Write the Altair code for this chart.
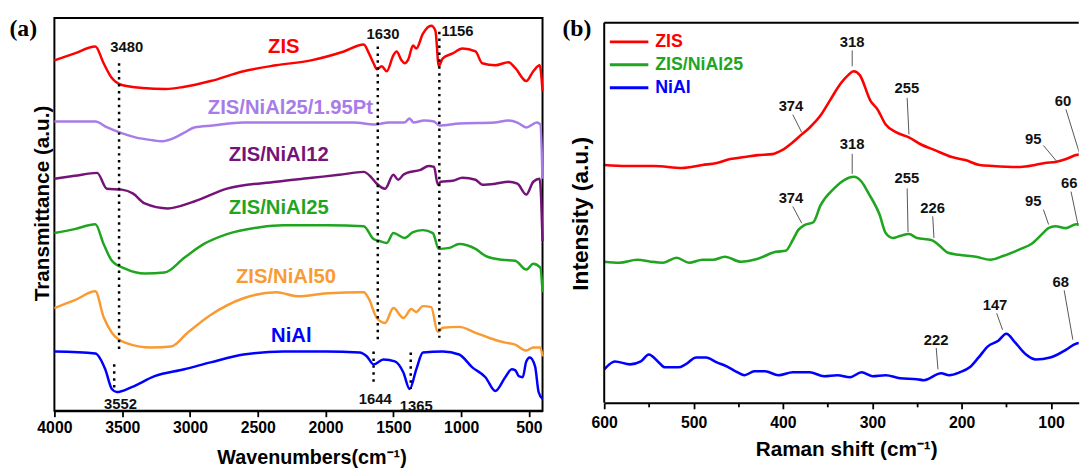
import altair as alt
import pandas as pd

SANS = "Liberation Sans"
SERIF = "Liberation Serif"

# ---------------- Panel (a): FTIR ----------------
ft_names = ["ZIS", "ZIS/NiAl25/1.95Pt", "ZIS/NiAl12", "ZIS/NiAl25", "ZIS/NiAl50", "NiAl"]
ft_colors = ["#FF0000", "#A77CE8", "#751478", "#1FA51F", "#F99A32", "#0000FF"]

zis_wn = [4000, 3850, 3698, 3637, 3576, 3503, 3350, 3180, 3050, 2848, 2605, 2365, 2108, 1865, 1719, 1680, 1646,
          1622, 1586, 1549, 1500, 1476, 1440, 1416, 1390, 1355, 1331, 1282, 1221, 1190, 1165, 1136, 1063, 991,
          894, 845, 748, 651, 600, 520, 468, 421, 400]
zis_t = [355, 362, 369, 352, 337, 330, 327, 326, 328, 334, 344, 350, 355, 364, 371, 362, 352, 346, 349, 344,
         360, 364, 355, 352, 356, 370, 367, 382, 390, 385, 349, 357, 362, 367, 364, 352, 350, 353, 347, 334,
         344, 350, 324]

pt_wn = [4000, 3698, 3610, 3520, 3403, 3273, 3212, 3143, 3039, 2969, 2831, 2605, 2350, 2100, 1793, 1637, 1533,
         1420, 1380, 1351, 1273, 1200, 1161, 1013, 754, 650, 585, 520, 442, 416, 400]
pt_t = [293, 293, 287, 282, 277, 274, 273, 275, 282, 287, 289, 292, 292, 292, 292, 290, 292, 292, 296, 292,
        294, 293, 289, 291, 292, 294, 292, 287, 292, 290, 235]

n12_wn = [4000, 3850, 3685, 3613, 3503, 3419, 3334, 3164, 2969, 2727, 2363, 2100, 1900, 1719, 1660, 1622, 1561,
          1500, 1464, 1427, 1400, 1300, 1240, 1200, 1172, 1150, 1063, 991, 894, 845, 748, 651, 585, 520, 468,
          421, 400]
n12_t = [235, 238, 241, 225, 224, 220, 210, 205, 212, 225, 232, 236, 239, 242, 236, 230, 225, 239, 234, 239,
         241, 244, 248, 247, 229, 232, 233, 236, 234, 229, 230, 232, 230, 219, 232, 235, 172]

n25_wn = [4000, 3850, 3698, 3637, 3576, 3479, 3334, 3188, 3042, 2897, 2727, 2484, 2314, 1986, 1719, 1646, 1603,
          1549, 1500, 1416, 1355, 1282, 1209, 1165, 1088, 1015, 894, 821, 699, 602, 520, 468, 416, 400]
n25_t = [180, 184, 189, 169, 152, 144, 139, 140, 155, 169, 179, 186, 188, 188, 187, 174, 172, 170, 180, 175,
         181, 183, 180, 164, 165, 169, 164, 157, 153, 152, 143, 149, 145, 120]

n50_wn = [4000, 3850, 3698, 3637, 3576, 3479, 3285, 3139, 3018, 2848, 2605, 2363, 2205, 1986, 1719, 1683, 1622,
          1561, 1500, 1427, 1367, 1331, 1282, 1221, 1173, 1136, 1015, 894, 797, 675, 602, 520, 468, 416, 400]
n50_t = [104, 112, 121, 95, 79, 69, 64, 65, 79, 97, 114, 120, 116, 119, 120, 114, 94, 89, 104, 94,
         103, 100, 106, 105, 80, 84, 85, 79, 74, 69, 67, 61, 64, 64, 55]

nial_wn = [4000, 3698, 3625, 3576, 3540, 3430, 3261, 3042, 2848, 2605, 2314, 2000, 1750, 1695, 1646, 1573, 1489,
           1427, 1380, 1331, 1282, 1136, 1015, 918, 821, 748, 675, 627, 600, 575, 546, 520, 494, 455, 429, 400]
nial_t = [60, 58, 42, 22, 19, 24, 35, 42, 49, 57, 60, 60, 59, 55, 47, 52, 50, 39, 22, 42,
          59, 60, 57, 44, 34, 20, 34, 42, 41, 35, 34, 50, 54, 45, 19, 12]

ft_wn_all = [zis_wn, pt_wn, n12_wn, n25_wn, n50_wn, nial_wn]
ft_t_all = [zis_t, pt_t, n12_t, n25_t, n50_t, nial_t]

# series name labels (data coords)
ft_lab_wn = [2308, 2259, 2345, 2345, 2292, 2253]
ft_lab_t = [368.7, 307, 258.7, 205.3, 135.3, 75.3]

# peak annotations and dotted guide lines
pk_text = ["3480", "1630", "1156", "3552", "1644", "1365"]
pk_wn = [3467, 1576, 1027, 3513, 1634, 1331]
pk_t = [368.7, 381.3, 384.3, 7, 12, 5]
dot_wn = [3523, 1615, 1161, 3559, 1646, 1372]
dot_top = [352, 369, 384, 47, 60, 59]
dot_bot = [61, 72, 74, 20, 25, 22]

# ---------------- Panel (b): Raman ----------------
rm_names = ["ZIS", "ZIS/NiAl25", "NiAl"]
rm_colors = ["#FF0000", "#1FA51F", "#0000FF"]

rm_zis_x = [600, 575, 544, 513, 490, 474, 459, 443, 428, 412, 401, 389, 379, 370, 358, 347, 335, 327, 321, 314,
            302, 294, 285, 273, 259, 246, 230, 211, 196, 180, 165, 134, 118, 107, 95, 83, 72, 64, 48]
rm_zis_v = [241, 240, 240, 238, 241, 243, 247, 249, 251, 252, 256, 264, 272, 279, 291, 307, 324, 332, 336, 332,
            306, 297, 282, 274, 269, 262, 256, 249, 246, 241, 240, 239, 241, 243, 244, 247, 251, 252, 254]

rm_n25_x = [600, 583, 563, 548, 534, 519, 505, 490, 478, 465, 447, 428, 408, 397, 389, 383, 376, 366, 358, 343,
            331, 321, 312, 304, 292, 285, 277, 269, 259, 250, 234, 227, 215, 203, 184, 168, 153, 134, 122, 110,
            103, 95, 83, 72, 56, 38]
rm_n25_v = [143, 142, 145, 143, 142, 147, 142, 145, 145, 148, 143, 146, 153, 154, 165, 175, 180, 183, 200, 217,
            226, 229, 224, 212, 191, 172, 167, 169, 171, 167, 165, 161, 152, 150, 148, 145, 149, 156, 161, 171,
            177, 179, 177, 181, 177, 179]

rm_nial_x = [600, 588, 571, 559, 550, 540, 532, 517, 509, 497, 486, 474, 463, 453, 443, 432, 420, 405, 389, 370,
             354, 339, 325, 312, 300, 285, 269, 250, 242, 223, 214, 202, 191, 181, 171, 159, 150, 140, 128, 117,
             101, 95, 83, 72, 64, 48, 38]
rm_nial_v = [34, 42, 39, 42, 49, 42, 36, 36, 39, 46, 46, 41, 37, 32, 28, 32, 32, 28, 31, 31,
             27, 28, 26, 31, 27, 28, 25, 24, 23, 30, 28, 31, 36, 46, 57, 63, 70, 61, 49, 44,
             46, 48, 54, 60, 61, 54, 52]

rm_x_all = [rm_zis_x, rm_n25_x, rm_nial_x]
rm_v_all = [rm_zis_v, rm_n25_v, rm_nial_v]

rm_lab_text = ["318", "374", "255", "95", "60", "318", "374", "255", "226", "95", "66", "222", "147", "68"]
rm_lab_x = [322.5, 391, 261.4, 120, 86.5, 322.5, 391, 261.4, 232.4, 120, 79.5, 228.5, 162.7, 89.2]
rm_lab_v = [365.7, 300.7, 319, 267.3, 305.7, 262.3, 207.3, 227.3, 197.3, 204, 222.3, 64, 99, 122.3]
ptr_x1 = [322.5, 389, 261, 108.5, 83.3, 322.5, 389, 261, 232.4, 108.5, 77.6, 228.5, 160.8, 85.3]
ptr_v1 = [357, 292, 309, 260.7, 297.3, 252.3, 199, 217.3, 189, 195.7, 214, 55.7, 90.7, 114]
ptr_x2 = [322.5, 379, 259, 93, 67.9, 322.5, 379, 260, 231, 102.7, 70, 226.5, 154.2, 75.6]
ptr_v2 = [341, 274, 272, 244, 252, 232, 182, 173, 167, 180.7, 181, 34, 74, 64]

# ---------------- build tables ----------------
rows = []
for name, ws, ts in zip(ft_names, ft_wn_all, ft_t_all):
    for i, (w, t) in enumerate(zip(ws, ts)):
        rows.append({"series": name, "wn": w, "t": t, "i": i})
df_a = pd.DataFrame(rows)
df_a_lab = pd.DataFrame({"series": ft_names, "wn": ft_lab_wn, "t": ft_lab_t})
df_pk = pd.DataFrame({"txt": pk_text, "wn": pk_wn, "t": pk_t})
df_dot = pd.DataFrame({"wn": dot_wn, "t": dot_top, "t2": dot_bot})

rows = []
for name, xs, vs in zip(rm_names, rm_x_all, rm_v_all):
    for i, (x, v) in enumerate(zip(xs, vs)):
        rows.append({"sample": name, "rs": x, "v": v, "i": i})
df_b = pd.DataFrame(rows)
df_b_lab = pd.DataFrame({"txt": rm_lab_text, "rs": rm_lab_x, "v": rm_lab_v})
df_ptr = pd.DataFrame({"rs": ptr_x1, "v": ptr_v1, "rs2": ptr_x2, "v2": ptr_v2})
one = pd.DataFrame({"k": [0]})

WA, HA = 494.5, 398
WB, HB = 480.7, 390

# ---------------- panel (a) ----------------
xs_a = alt.Scale(domain=[4000, 400], nice=False, zero=False)
ys_a = alt.Scale(domain=[0, 398], nice=False, zero=False)
col_a = alt.Scale(domain=ft_names, range=ft_colors)

ax_a = alt.Axis(
    values=list(range(4000, 499, -250)),
    labelExpr="datum.value % 500 === 0 ? datum.label : ''",
    format="d", grid=False, labelOverlap=False, labelFlush=False,
    title="Wavenumbers(cm\u207b\u00b9)", titleFont=SANS, titleFontSize=20, titleFontWeight="bold",
    titleColor="black", titlePadding=12, titleX=260.5,
    labelFont=SANS, labelFontSize=16, labelFontWeight="bold", labelColor="black", labelPadding=3,
    tickSize={"condition": {"test": "datum.value % 500 === 0", "value": 6}, "value": 4},
    tickWidth=1.8, tickColor="black", domainColor="black", domainWidth=2,
)
ay_a = alt.Axis(
    title="Transmittance (a.u.)", titleFont=SANS, titleFontSize=21, titleFontWeight="bold",
    titleColor="black", titlePadding=2, titleY=187.5, labels=False, ticks=False, domain=False, grid=False,
)

lines_a = alt.Chart(df_a).mark_line(strokeWidth=2.5, strokeJoin="round", interpolate="monotone").encode(
    x=alt.X("wn:Q", scale=xs_a, axis=ax_a),
    y=alt.Y("t:Q", scale=ys_a, axis=ay_a),
    color=alt.Color("series:N", scale=col_a, legend=None),
    order=alt.Order("i:Q"),
    detail="series:N",
)
dots_a = alt.Chart(df_dot).mark_rule(color="black", strokeWidth=2.5, strokeDash=[2.5, 4.5]).encode(
    x="wn:Q", y="t:Q", y2="t2:Q"
)
pk_a = alt.Chart(df_pk).mark_text(font=SANS, fontSize=15, fontWeight="bold", color="#111",
                                  align="center", baseline="middle").encode(
    x="wn:Q", y="t:Q", text="txt:N"
)
names_a = alt.Chart(df_a_lab).mark_text(font=SANS, fontSize=20.5, fontWeight="bold",
                                        align="center", baseline="middle").encode(
    x="wn:Q", y="t:Q", text="series:N",
    color=alt.Color("series:N", scale=col_a, legend=None),
)
tag_a = alt.Chart(one).mark_text(text="(a)", font=SERIF, fontSize=24, fontWeight="bold", color="black",
                                 align="left", baseline="middle").encode(
    x=alt.value(-45.5), y=alt.value(11)
)
panel_a = alt.layer(lines_a, dots_a, pk_a, names_a, tag_a).properties(
    width=WA, height=HA, view=alt.ViewBackground(stroke="black", strokeWidth=2)
)

# ---------------- panel (b) ----------------
xs_b = alt.Scale(domain=[600, 69], nice=False, zero=False)
ys_b = alt.Scale(domain=[0, 390], nice=False, zero=False)
col_b = alt.Scale(domain=rm_names, range=rm_colors)

ax_b = alt.Axis(
    values=list(range(600, 69, -25)),
    labelExpr="datum.value % 100 === 0 ? datum.label : ''",
    format="d", grid=False, labelOverlap=False, labelFlush=False,
    title="Raman shift (cm\u207b\u00b9)", titleFont=SANS, titleFontSize=21, titleFontWeight="bold",
    titleColor="black", titlePadding=8, titleX=245.1,
    labelFont=SANS, labelFontSize=16, labelFontWeight="bold", labelColor="black", labelPadding=6,
    tickSize={"condition": {"test": "datum.value % 100 === 0", "value": 6}, "value": 4},
    tickWidth=1.8, tickColor="black", domainColor="black", domainWidth=2,
)
ay_b = alt.Axis(
    title="Intensity (a.u.)", titleFont=SANS, titleFontSize=23, titleFontWeight="bold",
    titleColor="black", titlePadding=12, titleY=198, labels=False, ticks=False, domain=False, grid=False,
)

lines_b = alt.Chart(df_b).mark_line(strokeWidth=2.6, strokeJoin="round", clip=True,
                                    interpolate="monotone").encode(
    x=alt.X("rs:Q", scale=xs_b, axis=ax_b),
    y=alt.Y("v:Q", scale=ys_b, axis=ay_b),
    color=alt.Color("sample:N", scale=col_b, legend=None),
    order=alt.Order("i:Q"),
    detail="sample:N",
)
ptr_b = alt.Chart(df_ptr).mark_rule(color="#555", strokeWidth=1, clip=True).encode(
    x="rs:Q", y="v:Q", x2="rs2:Q", y2="v2:Q"
)
lab_b = alt.Chart(df_b_lab).mark_text(font=SANS, fontSize=15, fontWeight="bold", color="#111",
                                      align="center", baseline="middle").encode(
    x="rs:Q", y="v:Q", text="txt:N"
)
frame_top = alt.Chart(one).mark_rule(color="black", strokeWidth=2).encode(
    x=alt.value(0), x2=alt.value(WB), y=alt.value(5)
)
frame_left = alt.Chart(one).mark_rule(color="black", strokeWidth=2).encode(
    x=alt.value(0), y=alt.value(5), y2=alt.value(HB)
)
tag_b = alt.Chart(one).mark_text(text="(b)", font=SERIF, fontSize=24, fontWeight="bold", color="black",
                                 align="left", baseline="middle").encode(
    x=alt.value(-42.3), y=alt.value(11)
)
legend_layers = []
for k, (nm, cl) in enumerate(zip(rm_names, rm_colors)):
    yy = 24.3 + 23.2 * k
    legend_layers.append(
        alt.Chart(one).mark_rule(color=cl, strokeWidth=3).encode(
            x=alt.value(5.7), x2=alt.value(44.7), y=alt.value(yy)
        )
    )
    legend_layers.append(
        alt.Chart(one).mark_text(text=nm, color=cl, font=SANS, fontSize=18, fontWeight="bold",
                                 align="left", baseline="middle").encode(
            x=alt.value(51.7), y=alt.value(yy)
        )
    )

panel_b = alt.layer(lines_b, ptr_b, lab_b, frame_top, frame_left, tag_b, *legend_layers).properties(
    width=WB, height=HB, view=alt.ViewBackground(stroke="transparent")
)

chart = alt.hconcat(panel_a, panel_b, spacing=17).resolve_scale(
    color="independent", x="independent", y="independent"
).configure(
    padding={"left": 0, "top": 5, "right": 0, "bottom": 0},
    background="white",
)

chart.save("out.html", embed_options={"renderer": "svg", "actions": False})
